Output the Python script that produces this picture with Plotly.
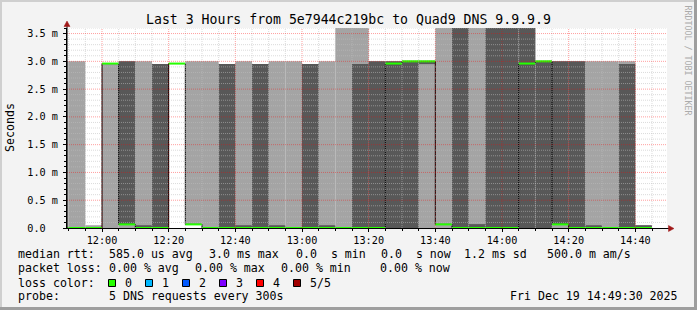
import plotly.graph_objects as go
import pandas as pd

# ---------------- data ----------------
bin_start = pd.date_range("2025-12-19 11:45:00", periods=37, freq="5min")
bin_minutes = 5

# five sorted DNS ping results per 5-minute step (milliseconds)
ping1 = [0, 0, 0, 0, 0, 0, 0, 2.96, 0.065, 0, 0, 0, 0, 0, 0, 0, 0, 0, 0,
         0, 0, 0, 0, 0, 0, 0, 0, 0, 0, 0, 0, 0, 0, 0, 0, 0, None]
ping2 = [0, 0, 0, 2.96, 0.065, 0, 0, 2.96, 0.065, 0, 0, 0, 0, 0, 0, 0, 0, 0, 0,
         0, 0, 0, 2.95, 0.065, 0, 0, 0, 0, 0, 0, 0.065, 0, 0, 0, 0, 0, None]
ping3 = [0, 0, 0, 2.96, 0.065, 0, 0, 2.96, 0.065, 0, 0, 0, 0, 0, 0, 0, 0, 0, 0,
         0, 2.96, 3.0, 3.0, 0.065, 0, 0, 0, 0, 2.96, 3.0, 0.065, 0, 0, 0, 0, 0, None]
ping4 = [0, 0, 0, 2.96, 3.0, 0.05, 2.95, 2.96, 0.065, 0, 2.95, 0.05, 2.95, 0.05, 0, 2.95, 0.05, 0, 2.95,
         3.0, 3.0, 3.0, 3.0, 0.065, 4.2, 0.07, 4.2, 4.2, 4.2, 3.0, 3.0, 3.0, 0.05, 0, 2.95, 0.05, None]
ping5 = [3.0, 3.0, 0.05, 2.96, 3.0, 3.0, 2.95, 2.96, 3.0, 3.0, 2.95, 3.0, 2.95, 3.0, 3.0, 2.95, 3.0, 4.2, 4.2,
         3.0, 3.0, 3.0, 3.0, 4.2, 4.2, 4.2, 4.2, 4.2, 4.2, 3.0, 3.0, 3.0, 3.0, 3.0, 3.0, 0.05, None]
loss = [0] * 36 + [None]

loss_colors = ["#26ff00", "#00b8ff", "#0059ff", "#7e00ff", "#ff0000", "#a10000"]
loss_labels = ["0", "1", "2", "3", "4", "5/5"]

x_tick_vals = pd.date_range("2025-12-19 12:00:00", "2025-12-19 14:40:00", freq="20min")
x_tick_text = [t.strftime("%H:%M") for t in x_tick_vals]
y_tick_vals = [0, 0.5, 1.0, 1.5, 2.0, 2.5, 3.0, 3.5]
y_tick_text = ["0.0\u00a0\u00a0", "0.5 m", "1.0 m", "1.5 m", "2.0 m", "2.5 m", "3.0 m", "3.5 m"]

x_start = "2025-12-19 11:49:30"
x_end = "2025-12-19 14:49:30"
y_max = 3.6

title = "Last 3 Hours from 5e7944c219bc to Quad9 DNS 9.9.9.9"
row1 = [("median rtt:", 16), ("585.0 us avg", 107.3), ("3.0 ms max", 207.3), ("0.0\u00a0\u00a0s min", 294),
        ("0.0\u00a0\u00a0s now", 379.3), ("1.2 ms sd", 461.7), ("500.0 m am/s", 545)]
row2 = [("packet loss:", 16), ("0.00 % avg", 107.3), ("0.00 % max", 193.3), ("0.00 % min", 279.3),
        ("0.00 % now", 378.3)]
row4 = [("probe:", 16), ("5 DNS requests every 300s", 107.3)]
stamp = "Fri Dec 19 14:49:30 2025"

# ---------------- layout geometry ----------------
W, H = 697, 310
L, R, T, B = 67, 30, 28, 82
PW, PH = W - L - R, H - T - B
MONO = "DejaVu Sans Mono"


def px(x):
    return (x - L) / PW


def py(y):
    return (T + PH - y) / PH


step = pd.Timedelta(minutes=bin_minutes)
valid = [i for i in range(len(bin_start)) if ping3[i] is not None]
centers = [bin_start[i] + step / 2 for i in valid]

fig = go.Figure()

# smoke: outer band (ping1..ping5) lighter, inner band (ping2..ping4) darker
fig.add_trace(go.Bar(
    x=centers, base=[ping1[i] for i in valid], y=[ping5[i] - ping1[i] for i in valid],
    width=step.total_seconds() * 1000, marker=dict(color="#a4a4a4", line=dict(width=0)),
    hoverinfo="skip"))
fig.add_trace(go.Bar(
    x=centers, base=[ping2[i] for i in valid], y=[ping4[i] - ping2[i] for i in valid],
    width=step.total_seconds() * 1000, marker=dict(color="#585858", line=dict(width=0)),
    hoverinfo="skip"))

# median step line (black connector)
mx = [bin_start[i] for i in valid] + [bin_start[valid[-1]] + step]
my = [ping3[i] for i in valid] + [ping3[valid[-1]]]
fig.add_trace(go.Scatter(x=mx, y=my, mode="lines", line=dict(color="black", width=1, shape="hv"),
                         hoverinfo="skip"))

# median coloured by loss
for lv, col in enumerate(loss_colors):
    sx, sy = [], []
    for i in valid:
        if loss[i] == lv:
            sx += [bin_start[i], bin_start[i] + step, None]
            sy += [ping3[i], ping3[i], None]
    if sx:
        fig.add_trace(go.Scatter(x=sx, y=sy, mode="lines", line=dict(color=col, width=2),
                                 hoverinfo="skip"))

shapes = []
# grid drawn above the data (rrdtool style)
for t in pd.date_range("2025-12-19 11:50:00", "2025-12-19 14:45:00", freq="5min"):
    major = (t.minute % 20 == 0)
    shapes.append(dict(type="line", xref="x", yref="paper", x0=t, x1=t, y0=0, y1=1, layer="above",
                       line=dict(color="rgba(255,0,0,0.38)" if major else "rgba(190,190,190,0.55)",
                                 width=1, dash="1px,1px")))
for k in range(1, 37):
    v = k / 10
    major = (k % 5 == 0)
    shapes.append(dict(type="line", xref="paper", yref="y", x0=0, x1=1, y0=v, y1=v, layer="above",
                       line=dict(color="rgba(255,0,0,0.38)" if major else "rgba(190,190,190,0.55)",
                                 width=1, dash="1px,1px")))

# axis arrows
arrow_col = "#a01818"
shapes.append(dict(type="line", xref="paper", yref="paper", x0=px(67), x1=px(67), y0=py(228), y1=py(25),
                   line=dict(color="black", width=1)))
shapes.append(dict(type="path", xref="paper", yref="paper",
                   path=f"M {px(64)} {py(26.5)} L {px(67)} {py(21)} L {px(70)} {py(26.5)} Z",
                   fillcolor=arrow_col, line=dict(color=arrow_col, width=0.5)))
shapes.append(dict(type="line", xref="paper", yref="paper", x0=px(667), x1=px(669), y0=py(228.5), y1=py(228.5),
                   line=dict(color="black", width=1)))
shapes.append(dict(type="path", xref="paper", yref="paper",
                   path=f"M {px(668.5)} {py(225.5)} L {px(674)} {py(228.5)} L {px(668.5)} {py(231.5)} Z",
                   fillcolor=arrow_col, line=dict(color=arrow_col, width=0.5)))

# frame (3D shading)
shapes.append(dict(type="rect", xref="paper", yref="paper", x0=px(0), x1=px(W), y0=py(0), y1=py(2),
                   fillcolor="#cfcfcf", line=dict(width=0), layer="below"))
shapes.append(dict(type="rect", xref="paper", yref="paper", x0=px(0), x1=px(2), y0=py(0), y1=py(H),
                   fillcolor="#cfcfcf", line=dict(width=0), layer="below"))
shapes.append(dict(type="rect", xref="paper", yref="paper", x0=px(0), x1=px(W), y0=py(H - 3), y1=py(H),
                   fillcolor="#9e9e9e", line=dict(width=0), layer="below"))
shapes.append(dict(type="rect", xref="paper", yref="paper", x0=px(W - 3), x1=px(W), y0=py(0), y1=py(H),
                   fillcolor="#9e9e9e", line=dict(width=0), layer="below"))

# loss colour legend swatches
for k, col in enumerate(loss_colors):
    x0 = 108.5 + 37 * k
    shapes.append(dict(type="rect", xref="paper", yref="paper", x0=px(x0), x1=px(x0 + 7),
                       y0=py(279.5), y1=py(286.5), fillcolor=col, line=dict(color="black", width=1)))

annotations = []


def ann(text, x, y, size, xanchor="left", color="black", angle=0):
    annotations.append(dict(text=text, xref="paper", yref="paper", x=px(x), y=py(y), xanchor=xanchor,
                            yanchor="middle", showarrow=False, textangle=angle,
                            font=dict(family=MONO, size=size, color=color)))


ann(title, 348.5, 19, 13.2, xanchor="center")
for txt, x in row1:
    ann(txt, x, 254, 11.6)
for txt, x in row2:
    ann(txt, x, 268, 11.6)
ann("loss color:", 16, 282.5, 11.6)
for k, lab in enumerate(loss_labels):
    ann(lab, 123.3 + 37 * k, 282.5, 11.6)
for txt, x in row4:
    ann(txt, x, 296, 11.6)
ann(stamp, 680, 296, 11.6, xanchor="right")
ann("Seconds", 10, 128, 11.6, xanchor="center", angle=-90)
ann("RRDTOOL / TOBI OETIKER", 687.5, 60, 8.3, xanchor="center", color="#ababab", angle=90)

fig.update_layout(
    width=W, height=H, margin=dict(l=L, r=R, t=T, b=B, pad=0),
    paper_bgcolor="#f3f3f3", plot_bgcolor="white", showlegend=False,
    barmode="overlay", shapes=shapes, annotations=annotations,
    xaxis=dict(type="date", range=[x_start, x_end], tickvals=list(x_tick_vals), ticktext=x_tick_text,
               ticks="outside", ticklen=3, tickcolor="black", showgrid=False, zeroline=False,
               showline=True, linecolor="black", linewidth=1,
               tickfont=dict(family=MONO, size=10.2, color="black"),
               minor=dict(ticks="outside", ticklen=2, tickcolor="black", dtick=300000,
                          tick0="2025-12-19 11:50:00", showgrid=False)),
    yaxis=dict(range=[0, y_max], tickvals=y_tick_vals, ticktext=y_tick_text,
               ticks="outside", ticklen=3, tickcolor="black", showgrid=False, zeroline=False,
               showline=True, linecolor="black", linewidth=1, ticklabelstandoff=3,
               tickfont=dict(family=MONO, size=10.2, color="black"),
               minor=dict(ticks="outside", ticklen=2, tickcolor="black", dtick=0.1, tick0=0,
                          showgrid=False)),
)

fig.write_html("out.html")
